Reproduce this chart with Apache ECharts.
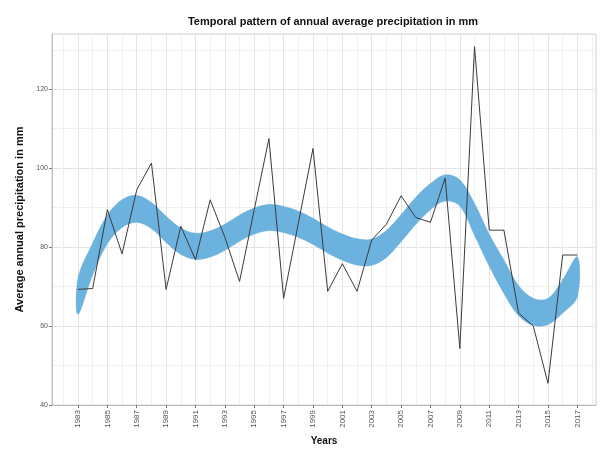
<!DOCTYPE html>
<html>
<head>
<meta charset="utf-8">
<script src="https://cdn.jsdelivr.net/npm/echarts@6/dist/echarts.min.js"></script>
<style>html,body{margin:0;padding:0;background:#fff;}#c{width:602px;height:451px;}</style>
</head>
<body>
<div id="c"></div>
<script>
const years = [1983,1984,1985,1986,1987,1988,1989,1990,1991,1992,1993,1994,1995,1996,1997,1998,1999,2000,2001,2002,2003,2004,2005,2006,2007,2008,2009,2010,2011,2012,2013,2014,2015,2016,2017];
const precipitation = [69.3,69.5,89.5,78.3,94.5,101.3,69.3,85.3,76.8,92,82.5,71.3,89.5,107.5,67,86,105,68.8,75.8,68.8,81.8,85.8,93,87.5,86.3,97.5,54.3,130.8,84.3,84.3,63.3,60,45.5,78,78];
const bandLower = [63,73,80.9,85,86.3,84.7,81.2,78.2,76.9,77.5,79.2,81.5,83.3,84.2,83.7,82.5,80.7,78.5,76.7,75.5,75.4,77.4,81.4,85.8,89.5,91.7,90.4,83,75.2,68.3,62.6,60.2,60.4,63.3,67.5];
const bandUpper = [72,81,88.1,92,93.1,91.3,87.8,84.8,83.5,84.1,85.8,88.1,89.9,90.8,90.3,89.1,87.3,85.1,83.3,82.1,82,84.2,88.2,92.6,96.1,98.3,97,91,83.2,76.7,70.2,67,67,71.7,77.5];
const xTickYears = [1983,1985,1987,1989,1991,1993,1995,1997,1999,2001,2003,2005,2007,2009,2011,2013,2015,2017];
const xMinorYears = [1982,1984,1986,1988,1990,1992,1994,1996,1998,2000,2002,2004,2006,2008,2010,2012,2014,2016,2018];
const yMinorValues = [50,70,90,110,130];

const chart = echarts.init(document.getElementById('c'), null, {renderer: 'canvas'});
const font = '"Liberation Sans", Arial, sans-serif';

const vLines = xTickYears.map(y => ({xAxis: y, lineStyle: {color: '#e3e3e3', width: 1, type: 'solid'}}))
  .concat(xMinorYears.map(y => ({xAxis: y, lineStyle: {color: '#efefef', width: 1, type: 'solid'}})))
  .concat(yMinorValues.map(v => ({yAxis: v, lineStyle: {color: '#efefef', width: 1, type: 'solid'}})));

function renderBand(params, api) {
  if (params.dataIndex !== 0) return null;
  const pts = [];
  for (let i = 0; i < years.length; i++) pts.push(api.coord([years[i], bandUpper[i]]));
  for (let i = years.length - 1; i >= 0; i--) pts.push(api.coord([years[i], bandLower[i]]));
  return {
    type: 'polygon',
    shape: {points: pts, smooth: 0.35},
    style: {fill: '#6cb2df', stroke: '#62a9d9', lineWidth: 0.6}
  };
}

chart.setOption({
  animation: false,
  backgroundColor: '#ffffff',
  title: {
    text: 'Temporal pattern of annual average precipitation in mm',
    left: 328, top: 11, textAlign: 'center',
    textStyle: {fontFamily: font, fontSize: 11, fontWeight: 'bold', color: '#111'}
  },
  grid: {left: 52, right: 6, top: 34, bottom: 41, show: true, borderColor: '#d0d0d0', borderWidth: 1, backgroundColor: '#fff'},
  xAxis: {
    type: 'value', min: 1981.23, max: 2018.27,
    name: 'Years', nameLocation: 'middle', nameGap: 31,
    nameTextStyle: {fontFamily: font, fontSize: 10, fontWeight: 'bold', color: '#111'},
    axisLine: {show: true, lineStyle: {color: '#bdbdbd', width: 1}},
    axisTick: {show: true, customValues: xTickYears, length: 3, lineStyle: {color: '#777'}},
    axisLabel: {customValues: xTickYears, rotate: 90, fontFamily: font, fontSize: 8, color: '#555', margin: 5,
      formatter: v => String(Math.round(v))},
    splitLine: {show: false}
  },
  yAxis: {
    type: 'value', min: 40, max: 134, interval: 20,
    name: 'Average annual precipitation in mm', nameLocation: 'middle', nameGap: 22,
    nameTextStyle: {fontFamily: font, fontSize: 11, fontWeight: 'bold', color: '#111'},
    axisLine: {show: true, lineStyle: {color: '#bdbdbd', width: 1}},
    axisTick: {show: true, length: 3, lineStyle: {color: '#777'}},
    axisLabel: {fontFamily: font, fontSize: 7, color: '#555', margin: 4, showMaxLabel: false},
    splitLine: {show: true, lineStyle: {color: '#e3e3e3', width: 1}}
  },
  series: [
    {
      type: 'line', name: 'grid', data: [], silent: true, z: 0,
      markLine: {silent: true, z: 0, zlevel: 0, symbol: ['none','none'], label: {show: false}, animation: false, data: vLines}
    },
    {
      type: 'custom', name: 'band', silent: true, z: 5,
      data: years.map((y, i) => [y, bandLower[i], bandUpper[i]]),
      encode: {x: 0, y: [1, 2]},
      renderItem: renderBand
    },
    {
      type: 'line', name: 'Precipitation', symbol: 'none',
      data: years.map((y, i) => [y, precipitation[i]]),
      lineStyle: {color: '#3a3a3a', width: 1}, z: 10
    }
  ]
});
</script>
</body>
</html>
